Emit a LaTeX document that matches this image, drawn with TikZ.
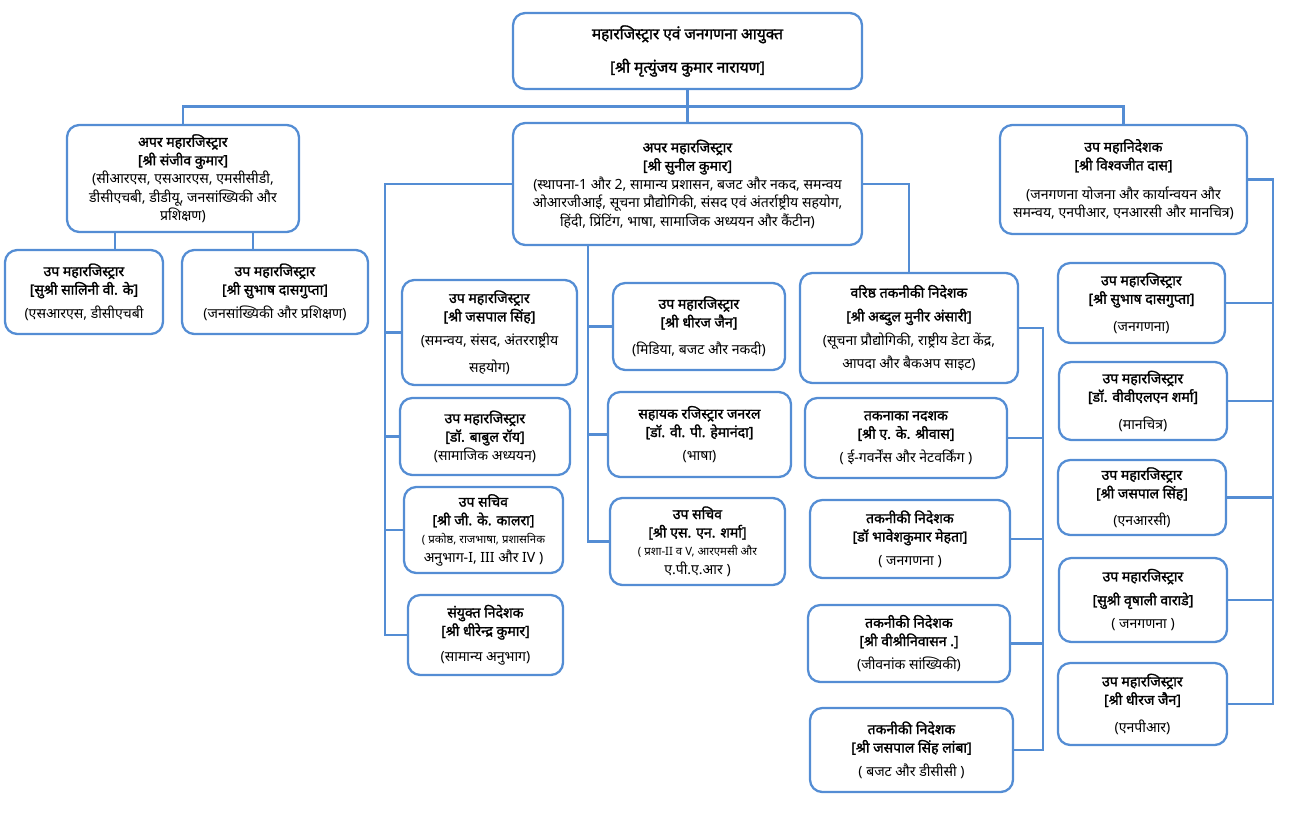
\documentclass[tikz,border=0pt]{standalone}
\usepackage{fontspec}
\setmainfont[Script=Devanagari, BoldFont={Noto Sans}, BoldFeatures={FakeBold=1.6}]{Noto Sans}
\usetikzlibrary{calc}
\definecolor{orgblue}{RGB}{84,141,212}
\newcommand{\smalltxt}{\fontsize{6.5}{8.5}\selectfont}
\tikzset{
  box/.style={draw=orgblue, line width=1.3pt, rounded corners=7pt, fill=white,
    align=center, inner sep=2pt, font=\fontsize{8}{10.5}\selectfont},
  sz/.style 2 args={minimum width=#1*0.02cm, minimum height=#2*0.02cm},
  link/.style={draw=orgblue, line width=1.6pt},
}
\begin{document}
\begin{tikzpicture}[x=0.02cm, y=-0.02cm]
  \useasboundingbox (0,0) rectangle (1289,821);
  \node[box, sz={349}{76}, font=\fontsize{8.8}{11}\selectfont] (ar) at (687.5,51) {\textbf{महारजिस्ट्रार एवं जनगणना आयुक्त}\\[8pt]\textbf{[श्री मृत्युंजय कुमार नारायण]}};
  \node[box, sz={232}{107}] (apL) at (183,178.5) {\textbf{अपर महारजिस्ट्रार}\\\textbf{[श्री संजीव कुमार]}\\(सीआरएस, एसआरएस, एमसीसीडी,\\डीसीएचबी, डीडीयू, जनसांख्यिकी और\\प्रशिक्षण)};
  \node[box, sz={349}{122}] (apM) at (687.5,184) {\textbf{अपर महारजिस्ट्रार}\\\textbf{[श्री सुनील कुमार]}\\(स्थापना-1 और 2, सामान्य प्रशासन, बजट और नकद, समन्वय\\ओआरजीआई, सूचना प्रौद्योगिकी,  संसद एवं अंतर्राष्ट्रीय सहयोग,\\हिंदी, प्रिंटिंग, भाषा, सामाजिक अध्ययन और कैंटीन)};
  \node[box, sz={247}{109}] (upm) at (1123.5,179.5) {\textbf{उप महानिदेशक}\\\textbf{[श्री विश्वजीत दास]}\\[6pt](जनगणना योजना और कार्यान्वयन और\\समन्वय, एनपीआर, एनआरसी और मानचित्र)};
  \node[box, sz={158}{84}] (dy1) at (84,292) {\textbf{उप महारजिस्ट्रार}\\\textbf{[सुश्री सालिनी वी. के]}\\[3pt](एसआरएस, डीसीएचबी};
  \node[box, sz={186}{84}] (dy2) at (275,292) {\textbf{उप महारजिस्ट्रार}\\\textbf{[श्री सुभाष दासगुप्ता]}\\[3pt](जनसांख्यिकी और प्रशिक्षण)};
  \node[box, sz={175}{105}] (dl1) at (489.5,332.5) {\textbf{उप महारजिस्ट्रार}\\\textbf{[श्री जसपाल सिंह]}\\[3pt](समन्वय, संसद, अंतरराष्ट्रीय\\[5pt]सहयोग)};
  \node[box, sz={170}{77}] (dl2) at (485,436.5) {\textbf{उप महारजिस्ट्रार}\\\textbf{[डॉ. बाबुल रॉय]}\\(सामाजिक अध्ययन)};
  \node[box, sz={159}{86}] (dl3) at (483.5,530) {\textbf{उप सचिव}\\\textbf{[श्री जी. के. कालरा]}\\\smalltxt ( प्रकोष्ठ, राजभाषा, प्रशासनिक\\अनुभाग-I, III और IV )};
  \node[box, sz={155}{80}] (dl4) at (485.5,635) {\textbf{संयुक्त निदेशक}\\\textbf{[श्री धीरेन्द्र कुमार]}\\[4pt](सामान्य अनुभाग)};
  \node[box, sz={172}{87}] (dm1) at (699,326.5) {\textbf{उप महारजिस्ट्रार}\\\textbf{[श्री धीरज जैन]}\\[5pt](मिडिया, बजट और नकदी)};
  \node[box, sz={183}{85}] (dm2) at (699.5,434.5) {\textbf{सहायक रजिस्ट्रार जनरल}\\\textbf{[डॉ. वी. पी. हेमानंदा]}\\[3pt](भाषा)};
  \node[box, sz={175}{87}] (dm3) at (697.5,541.5) {\textbf{उप सचिव}\\\textbf{[श्री एस. एन. शर्मा]}\\\smalltxt ( प्रशा-II व  V, आरएमसी और\\ए.पी.ए.आर )};
  \node[box, sz={218}{110}] (vt) at (909,328) {\textbf{वरिष्ठ तकनीकी निदेशक}\\[3pt]\textbf{[श्री अब्दुल मुनीर अंसारी]}\\[3pt](सूचना प्रौद्योगिकी, राष्ट्रीय डेटा केंद्र,\\[3pt]आपदा और बैकअप साइट)};
  \node[box, sz={202}{80}] (tA) at (906,438) {\textbf{तकनाका नदशक}\\\textbf{[श्री ए. के. श्रीवास]}\\[3pt]( ई-गवर्नेंस और नेटवर्किंग )};
  \node[box, sz={200}{78}] (tB) at (910,539) {\textbf{तकनीकी निदेशक}\\\textbf{[डॉ भावेशकुमार मेहता]}\\[3pt]( जनगणना )};
  \node[box, sz={202}{77}] (tC) at (909,643.5) {\textbf{तकनीकी निदेशक}\\\textbf{[श्री वीश्रीनिवासन .]}\\[3pt](जीवनांक सांख्यिकी)};
  \node[box, sz={203}{84}] (tD) at (911.5,750) {\textbf{तकनीकी निदेशक}\\\textbf{[श्री जसपाल सिंह लांबा]}\\[3pt]( बजट और डीसीसी )};
  \node[box, sz={167}{80}] (r1) at (1141.5,303) {\textbf{उप महारजिस्ट्रार}\\\textbf{[श्री सुभाष दासगुप्ता]}\\[5pt](जनगणना)};
  \node[box, sz={168}{78}] (r2) at (1143,401) {\textbf{उप महारजिस्ट्रार}\\\textbf{[डॉ. वीवीएलएन शर्मा]}\\[5pt](मानचित्र)};
  \node[box, sz={168}{75}] (r3) at (1142,497.5) {\textbf{उप महारजिस्ट्रार}\\\textbf{[श्री जसपाल सिंह]}\\[5pt](एनआरसी)};
  \node[box, sz={168}{84}] (r4) at (1143,600) {\textbf{उप महारजिस्ट्रार}\\[3pt]\textbf{[सुश्री वृषाली वाराडे]}\\[3pt]( जनगणना )};
  \node[box, sz={169}{82}] (r5) at (1142.5,704) {\textbf{उप महारजिस्ट्रार}\\\textbf{[श्री धीरज जैन]}\\[5pt](एनपीआर)};
  \draw[link] (ar.south) -- ++(0,16) coordinate (bus);
  \draw[link] (apL.north) |- (bus) -| (upm.north);
  \draw[link] (bus) -- (apM.north);
  \coordinate (jl1) at (115,0);
  \coordinate (jl2) at (253,0);
  \draw[link] (apL.south -| jl1) -- (dy1.north -| jl1);
  \draw[link] (apL.south -| jl2) -- (dy2.north -| jl2);
  \coordinate (sl) at (385,0);
  \draw[link] (apM.west) -| (sl |- dl4.west) -- (dl4.west);
  \foreach \n in {dl1,dl2,dl3} \draw[link] (\n.west) -- (\n.west -| sl);
  \coordinate (sm) at (588,0);
  \draw[link] (apM.south -| sm) |- (dm3.west);
  \foreach \n in {dm1,dm2} \draw[link] (\n.west) -- (\n.west -| sm);
  \draw[link] (apM.east) -| (vt.north);
  \coordinate (st) at (1043,0);
  \draw[link] (vt.east) -| (st |- tD.east) -- (tD.east);
  \foreach \n in {tA,tB,tC} \draw[link] (\n.east) -- (\n.east -| st);
  \coordinate (sr) at (1273,0);
  \draw[link] (upm.east) -| (sr |- r5.east) -- (r5.east);
  \foreach \n in {r1,r2,r3,r4} \draw[link] (\n.east) -- (\n.east -| sr);
\end{tikzpicture}
\end{document}
